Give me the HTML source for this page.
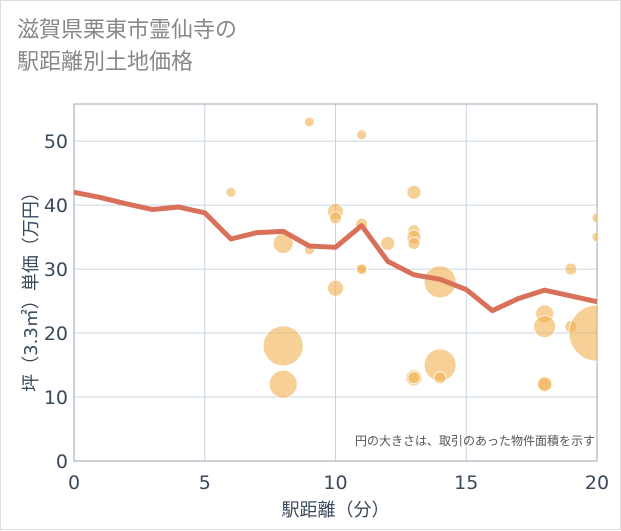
<!DOCTYPE html>
<html><head><meta charset="utf-8"><style>
body{margin:0;background:#fff;}
#wrap{position:relative;width:619px;height:528px;border:1px solid #ddd;background:#fff;font-family:"DejaVu Sans","Noto Sans CJK JP",sans-serif;}
#title{position:absolute;left:16px;top:14px;font-size:22px;line-height:32px;color:#888;}
svg{position:absolute;left:0;top:0;}
</style></head><body>
<div id="wrap">
<div id="title">滋賀県栗東市霊仙寺の<br>駅距離別土地価格</div>
<svg id="c" width="621" height="530" font-family="DejaVu Sans, Noto Sans CJK JP, sans-serif"></svg>
</div>
<script>
const xTicks=[0,5,10,15,20];
const yTicks=[0,10,20,30,40,50];
const lineX=[0,1,2,3,4,5,6,7,8,9,10,11,12,13,14,15,16,17,18,19,20];
const lineY=[42,41.2,40.2,39.3,39.7,38.8,34.7,35.7,35.9,33.6,33.4,36.8,31.2,29.1,28.4,26.8,23.5,25.4,26.7,25.8,24.9];
const bubX=[6,8,8,8,9,9,10,10,10,11,11,11,11,12,13,13,13,13,13,13,14,14,14,18,18,18,18,19,19,20,20,20];
const bubY=[42,34,18,12,53,33,39,38,27,51,37,30,30,34,42,36,35,34,13,13,28,15,13,23,21,12,12,30,21,38,35,20];
const bubR=[5,10,20,14,5,5,8,6,8,5,6,6,5,7,7,6,7,6,8,6,16,16,6,9,11,8,7,6,6,5,5,28];
const L=73,R=596,T=103,B=460,YMAX=55.8;
const sx=v=>L+(v/20)*(R-L), sy=v=>B-(v/YMAX)*(B-T);
const svg=document.getElementById('c'),NS='http://www.w3.org/2000/svg';
function mk(t,a,p){const e=document.createElementNS(NS,t);for(const k in a)e.setAttribute(k,a[k]);(p||svg).appendChild(e);return e;}
const clip=mk('clipPath',{id:'pc'});mk('rect',{x:L,y:T,width:R-L,height:B-T},clip);
xTicks.forEach(v=>{const g=mk('line',{x1:sx(v),x2:sx(v),y1:T,y2:B,stroke:'#c8d4e0','stroke-width':1});


const t=mk('text',{x:sx(v),y:488,'text-anchor':'middle','font-size':19,fill:'#3a4a5c'});t.textContent=v;

});
yTicks.forEach(v=>{const g=mk('line',{x1:L,x2:R,y1:sy(v),y2:sy(v),stroke:'#c8d4e0','stroke-width':1});


const t=mk('text',{x:67,y:sy(v)+7,'text-anchor':'end','font-size':19,fill:'#3a4a5c'});t.textContent=v;

});
mk('rect',{x:L,y:T,width:R-L,height:B-T,fill:'none',stroke:'#9aa4b0','stroke-width':1});
const bg=mk('g',{'clip-path':'url(#pc)'});
bubX.forEach((x,i)=>{const c=mk('circle',{cx:sx(x),cy:sy(bubY[i]),r:bubR[i],fill:'#f0b050','fill-opacity':0.6,stroke:'#fff','stroke-width':0.8},bg);

});
const pl=mk('polyline',{points:lineX.map((x,i)=>sx(x)+','+sy(lineY[i])).join(' '),fill:'none',stroke:'#d9705a','stroke-width':5,'stroke-linejoin':'round'});


const n=mk('text',{x:594,y:444,'text-anchor':'end','font-size':12,fill:'#555'});n.textContent='円の大きさは、取引のあった物件面積を示す';


const xt=mk('text',{x:(L+R)/2,y:515,'text-anchor':'middle','font-size':18,fill:'#3a4a5c'});xt.textContent='駅距離（分）';


const yt=mk('text',{x:0,y:0,'text-anchor':'middle','font-size':18,fill:'#3a4a5c',transform:'translate(36,'+((T+B)/2+5)+') rotate(-90)'});yt.textContent='坪（3.3㎡）単価（万円）';


</script>
</body></html>
